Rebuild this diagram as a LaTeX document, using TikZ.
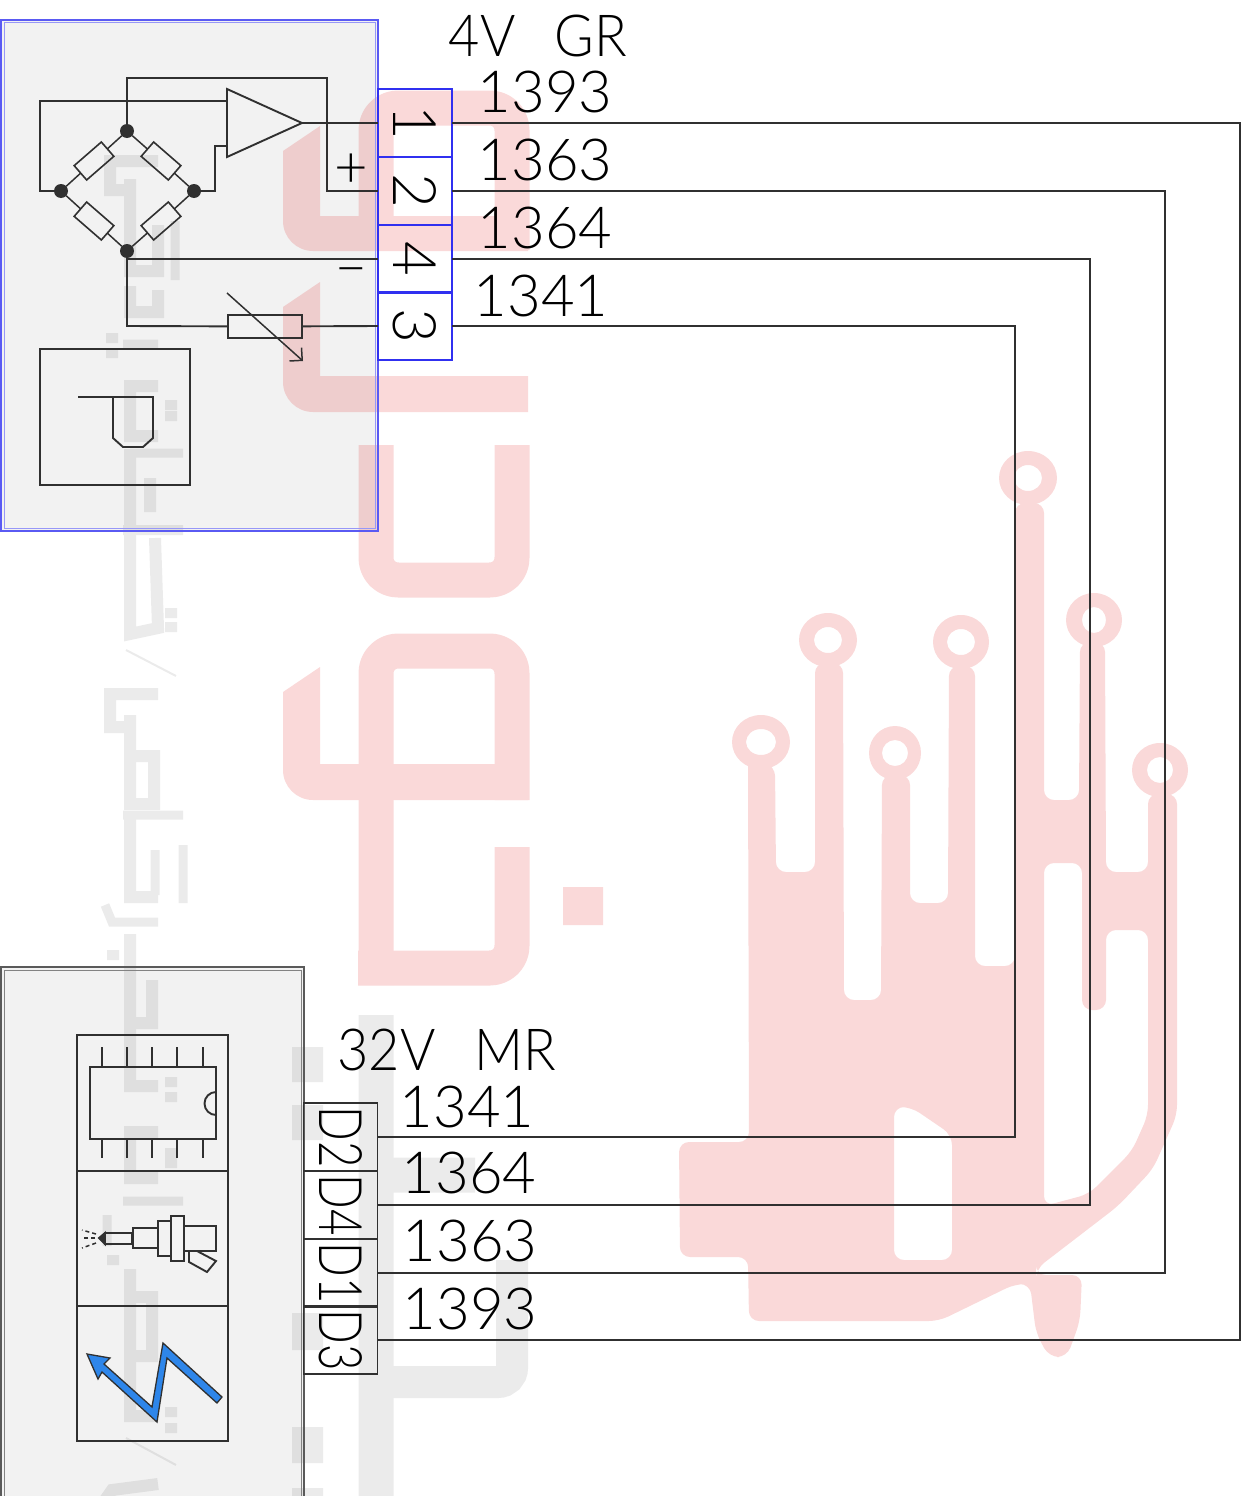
\documentclass[tikz,border=0pt]{standalone}
\usepackage{fontspec}
\usetikzlibrary{arrows.meta,positioning}
\newfontfamily\cadfont{Lato Light}
\definecolor{panel}{HTML}{F2F2F2}
\definecolor{wireblue}{HTML}{3030F0}
\definecolor{wirelink}{HTML}{303030}
\definecolor{boltblue}{HTML}{2E86EA}
\begin{document}
\begin{tikzpicture}[x=1pt,y=-1pt,
  wire/.style={draw=wirelink,line width=1.5pt},
  thick wire/.style={draw=wirelink,line width=1.9pt},
  main node/.style={draw=wireblue,line width=1.5pt,minimum width=74pt,minimum height=68pt,inner sep=0pt,outer sep=0pt},
  plug node/.style={draw=wirelink,line width=1.5pt,minimum width=74pt,minimum height=68pt,inner sep=0pt,outer sep=0pt},
  pin text/.style={rotate=-90,text=black,font=\cadfont\fontsize{60}{60}\selectfont},
  code text/.style={text=black,inner sep=0pt,font=\cadfont\fontsize{58}{60}\selectfont},
  dot node/.style={circle,fill=wirelink,minimum size=14pt,inner sep=0pt,outer sep=0pt},
  res node/.style={draw=wirelink,line width=1.6pt,minimum width=36pt,minimum height=19pt,inner sep=0pt,outer sep=0pt},
  pink mark/.style={draw=red!86!black,line width=35pt,line join=round,rounded corners=22pt},
  gray mark/.style={draw=black,line width=12pt},
  thin mark/.style={draw=black,line width=2pt}]
\useasboundingbox (0,0) rectangle (1247,1496);
% panels
\fill[panel] (2,21) rectangle (378,530);
\fill[panel] (2,967) rectangle (303,1500);
% pink mark
\begin{scope}[transparency group,opacity=.15]
\fill[red!86!black] (320,126) -- (283,151) [rounded corners=30pt] -- (283,251) [sharp corners] -- (528,251) -- (528,216) -- (320,216) -- cycle;
\draw[pink mark] (376,233) -- (376,108) -- (512,108) -- (512,250);
\fill[red!86!black] (320,282) -- (283,307) [rounded corners=30pt] -- (283,412) [sharp corners] -- (528,412) -- (528,376) -- (320,376) -- cycle;
\draw[pink mark] (376,445) -- (376,580) -- (512,580) -- (512,445);
\fill[red!86!black] (320,667) -- (283,692) [rounded corners=30pt] -- (283,800) [sharp corners] -- (528,800) -- (528,764) -- (320,764) -- cycle;
\draw[pink mark] (376,782) -- (376,651) -- (512,651) -- (512,800);
\draw[pink mark] (512,847) -- (512,968) -- (358,968);
\draw[pink mark,rounded corners=0pt] (376,770) -- (376,985);
\fill[red!86!black] (563,887) rectangle (603,925);
\fill[red!86!black,even odd rule,rounded corners=10pt]
  (748,757) -- (749,1142) -- (679,1142) -- (680,1257) -- (748,1257) -- (749,1321) -- (939,1321)
  -- (1015,1284) -- (1030,1284) -- (1036,1333) -- (1049,1357) -- (1067,1357) -- (1080,1321) -- (1082,1275)
  -- (1036,1275) -- (1036,1269) -- (1118,1206) -- (1153,1169) -- (1177,1115) -- (1177,794) -- (1148,794) -- (1148,872)
  -- (1106,872) -- (1105,642) -- (1080,642) -- (1079,800) -- (1044,800) -- (1044,503) -- (1015,503)
  -- (1015,966) -- (975,966) -- (975,666) -- (949,666) -- (948,903) -- (910,903) -- (910,775)
  -- (882,775) -- (881,1000) -- (844,1000) -- (843,663) -- (815,663) -- (815,872) -- (776,872)
  -- (775,766) -- cycle
  (1044,863) -- (1044,1206) -- (1089,1194) -- (1132,1151) -- (1148,1115) -- (1148,930) -- (1106,930)
  -- (1106,1010) -- (1082,1010) -- (1082,863) -- cycle
  (894,1107) -- (911,1107) -- (952,1135) -- (952,1260) -- (894,1260) -- cycle;
\fill[red!86!black,even odd rule] (1028,478) ellipse [x radius=29pt,y radius=27pt] (1028,478) ellipse [x radius=14pt,y radius=13pt];
\fill[red!86!black,even odd rule] (1094,620) ellipse [x radius=28pt,y radius=27pt] (1094,620) ellipse [x radius=12pt,y radius=13pt];
\fill[red!86!black,even odd rule] (1160,770) ellipse [x radius=28pt,y radius=27pt] (1160,770) ellipse [x radius=13pt,y radius=13pt];
\fill[red!86!black,even odd rule] (828,640) ellipse [x radius=29pt,y radius=27pt] (828,640) ellipse [x radius=14pt,y radius=13pt];
\fill[red!86!black,even odd rule] (961,642) ellipse [x radius=28pt,y radius=27pt] (961,642) ellipse [x radius=14pt,y radius=13pt];
\fill[red!86!black,even odd rule] (895,753) ellipse [x radius=26pt,y radius=27pt] (895,753) ellipse [x radius=13pt,y radius=13pt];
\fill[red!86!black,even odd rule] (761,742) ellipse [x radius=29pt,y radius=27pt] (761,742) ellipse [x radius=15pt,y radius=13pt];
\end{scope}
% gray mark
\begin{scope}[transparency group,opacity=.08]
\draw[gray mark] (158,161) -- (110,161) -- (110,190) -- (130,190);
\draw[gray mark] (130,179) -- (130,271) -- (158,271) -- (158,225);
\draw[gray mark,line width=9pt] (175,221) -- (175,280);
\draw[gray mark] (130,286) -- (130,312) -- (158,312) -- (158,290);
\draw[gray mark,line width=9pt] (123,344) -- (158,344);
\draw[gray mark] (158,386) -- (130,386) -- (130,436) -- (158,436);
\draw[gray mark,line width=9pt] (130,453) -- (183,453);
\draw[gray mark] (130,449) -- (130,634) -- (158,628) -- (155,538);
\draw[gray mark,line width=10pt] (123,530) -- (183,530);
\draw[gray mark] (150,478) -- (150,512);
\draw[thin mark] (126,650) -- (176,676);
\draw[gray mark] (158,694) -- (110,694) -- (110,727) -- (130,727);
\draw[gray mark] (130,715) -- (130,804) -- (154,804) -- (154,756) -- (130,756);
\draw[gray mark,line width=9pt] (123,815) -- (183,815);
\draw[gray mark] (130,811) -- (130,897) -- (158,897);
\draw[gray mark,line width=9pt] (155,850) -- (155,895);
\draw[gray mark,line width=9pt] (183,845) -- (183,903);
\draw[gray mark,line width=9pt] (105,905) -- (112,922) -- (158,922);
\draw[gray mark] (130,934) -- (130,1086) -- (158,1086);
\draw[gray mark] (152,980) -- (152,1023) -- (130,1023);
\draw[gray mark] (158,1132) -- (130,1132) -- (130,1178) -- (158,1178);
\draw[gray mark,line width=9pt] (123,1201) -- (183,1201);
\draw[gray mark] (130,1269) -- (130,1416) -- (158,1416);
\draw[gray mark] (130,1297) -- (152,1297) -- (152,1356) -- (130,1356);
\draw[gray mark,line width=9pt] (107,1215) -- (107,1246);
\draw[thin mark] (126,1438) -- (176,1465);
\draw[gray mark] (158,1484) -- (112,1490) -- (105,1500);
\foreach \a/\b in {106/333,106/348,165/400,165/411,165/608,165/622,107/950,165/1077,165/1092,165/1148,165/1158,107/1255,165/1407,165/1423}
  \fill (\a,\b) rectangle +(12,10);
\draw[gray mark,line width=35pt] (376,1015) -- (376,1500);
\draw[gray mark,line width=35pt] (393,1175) -- (475,1175);
\draw[gray mark,line width=32pt,rounded corners=14pt] (376,1382) -- (512,1382) -- (512,1260);
\fill (292,1047) rectangle (323,1082);
\fill (292,1105) rectangle (323,1140);
\fill (292,1313) rectangle (323,1350);
\fill (292,1427) rectangle (323,1463);
\fill (292,1488) rectangle (323,1500);
\end{scope}
% panel edges
\draw[wireblue!80,line width=1.3pt] (1,20) rectangle (378,531);
\draw[wireblue!50,line width=1pt] (4,23) rectangle (375,528);
\draw[wirelink!80,line width=1.3pt] (1,967) rectangle (304,1505);
\draw[wirelink!60,line width=1pt] (4,970) rectangle (301,1505);
% terminals
\node[main node] (t1) at (415,123) {};
\node[main node] (t2) at (415,191) {};
\node[main node] (t4) at (415,259) {};
\node[main node] (t3) at (415,326) {};
\node[pin text] at (t1) {1};
\node[pin text] at (t2) {2};
\node[pin text] at (t4) {4};
\node[pin text] at (t3) {3};
\node[plug node] (d2) at (340.5,1137) {};
\node[plug node] (d4) at (340.5,1205) {};
\node[plug node] (d1) at (340.5,1273) {};
\node[plug node] (d3) at (340.5,1340) {};
\node[pin text] at (d2) {\scalebox{.76}[1]{D2}};
\node[pin text] at (d4) {\scalebox{.76}[1]{D4}};
\node[pin text] at (d1) {\scalebox{.76}[1]{D1}};
\node[pin text] at (d3) {\scalebox{.76}[1]{D3}};
% texts
\node[code text] (gr) at (538,36) {\scalebox{.93}[1]{4V\hspace{42pt}GR}};
\node[code text] (a1) at (545,92) {1393};
\node[code text] (a2) at (545,160) {1363};
\node[code text] (a3) at (545,228) {1364};
\node[code text] (a4) at (541,296) {1341};
\node[code text] (mr) at (447,1050) {\scalebox{.93}[1]{32V\hspace{42pt}MR}};
\node[code text] (b1) at (467,1107) {1341};
\node[code text] (b2) at (469,1173) {1364};
\node[code text] (b3) at (470,1241) {1363};
\node[code text] (b4) at (470,1309) {1393};
\node[code text] (plus) at (351,171) {+};
\node[code text] (minus) at (351,277) {\textendash};
% long wires
\coordinate (c1) at (1240,123);
\coordinate (e1) at (1240,1340);
\coordinate (c2) at (1165,191);
\coordinate (e2) at (1165,1273);
\coordinate (c4) at (1090,259);
\coordinate (e4) at (1090,1205);
\coordinate (c3) at (1015,326);
\coordinate (e3) at (1015,1137);
\draw[wire] (t1.east) -- (c1) -- (e1) -- (d3.east);
\draw[wire] (t2.east) -- (c2) -- (e2) -- (d1.east);
\draw[wire] (t4.east) -- (c4) -- (e4) -- (d4.east);
\draw[wire] (t3.east) -- (c3) -- (e3) -- (d2.east);
% bridge
\node[dot node] (bt) at (127,131) {};
\node[dot node] (bl) at (61,191) {};
\node[dot node] (br) at (194,191) {};
\node[dot node] (bb) at (127,251) {};
\node[res node,rotate=41] (r1) at (94,161) {};
\node[res node,rotate=-41] (r2) at (161,161) {};
\node[res node,rotate=-41] (r3) at (94,221) {};
\node[res node,rotate=41] (r4) at (161,221) {};
\draw[wire] (bl) -- (r1) -- (bt) -- (r2) -- (br) -- (r4) -- (bb) -- (r3) -- (bl);
% amplifier
\coordinate (a+) at (227,101);
\coordinate (a-) at (227,146);
\coordinate (ao) at (302,123);
\draw[thick wire] (227,89) -- (227,157) -- (ao) -- cycle;
\draw[thick wire] (bl) -- (40,191) -- (40,101) -- (a+);
\draw[thick wire] (br) -- (215,191) -- (215,146) -- (a-);
\draw[thick wire] (bt) -- (127,78) -- (327,78) -- (327,191) -- (t2.west);
\draw[thick wire] (ao) -- (t1.west);
% trim
\node[res node,minimum width=74pt,minimum height=23pt] (rv) at (265,326.5) {};
\coordinate (v1) at (227,293);
\coordinate (v2) at (303,361);
\draw[thick wire] (bb) -- (127,326) -- (rv);
\draw[thick wire] (127,259) -- (t4.west);
\draw[thick wire] (rv) -- (t3.west);
\draw[wire,-{Straight Barb[length=9pt,width=18pt]}] (v1) -- (v2);
% sensor box
\node[draw=wirelink,line width=2pt,minimum width=150pt,minimum height=136pt,inner sep=0pt] (box) at (115,417) {};
\draw[thick wire] (78,397) -- (153,397) -- (153,438) -- (143,447) -- (123,447) -- (113,438) -- (113,397);
% ecu box
\draw[thick wire,line width=2pt] (77,1035) rectangle (228,1441);
\draw[thick wire] (77,1171) -- (228,1171);
\draw[thick wire] (77,1306) -- (228,1306);
\draw[thick wire] (90,1067) rectangle (216,1139);
\draw[thick wire] (216,1092) arc (270:90:11.5);
\foreach \x in {102,127,152,177,203} {
  \draw[thick wire] (\x,1047) -- (\x,1067);
  \draw[thick wire] (\x,1139) -- (\x,1158);
}
% injector
\draw[thick wire] (105,1233) rectangle (132,1244);
\draw[thick wire,fill=wirelink] (105,1233) -- (99,1238) -- (105,1244) -- cycle;
\draw[thick wire] (133,1228) rectangle (158,1248);
\draw[thick wire] (158,1221) rectangle (171,1256);
\draw[thick wire] (171,1216) rectangle (184,1261);
\draw[thick wire] (184,1226) -- (216,1226) -- (216,1251) -- (184,1251);
\draw[thick wire] (184,1251) -- (189,1251) -- (189,1262) -- (207,1272) -- (216,1261) -- (197,1251);
\draw[wire,dashed,dash pattern=on 4pt off 3pt] (96,1234) -- (82,1230);
\draw[wire,dashed,dash pattern=on 4pt off 3pt] (95,1238) -- (82,1238);
\draw[wire,dashed,dash pattern=on 4pt off 3pt] (96,1243) -- (82,1248);
% bolt
\draw[fill=boltblue,draw=wirelink,line width=1.3pt,line join=miter]
  (87,1354) -- (110,1358) -- (104,1364) -- (152,1407) -- (163,1343) -- (222,1397) -- (217,1403)
  -- (167,1358) -- (157,1422) -- (102,1372) -- (98,1379) -- cycle;
\end{tikzpicture}
\end{document}
